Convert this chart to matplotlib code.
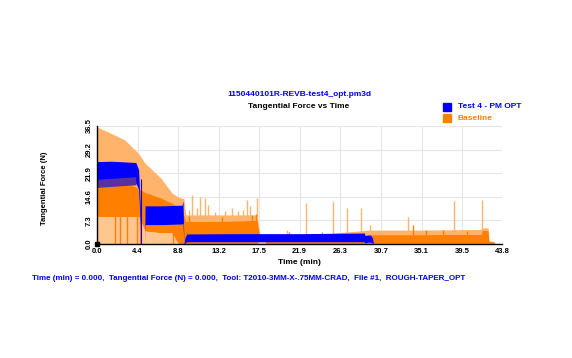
import matplotlib
matplotlib.use("Agg")
import matplotlib.pyplot as plt
from matplotlib.patches import Rectangle

plt.rcParams['font.family'] = ['Liberation Sans', 'DejaVu Sans']
plt.rcParams['font.weight'] = 'bold'

# --- data ---
x_ticks = [0.0, 4.4, 8.8, 13.2, 17.5, 21.9, 26.3, 30.7, 35.1, 39.5, 43.8]
y_ticks = [0.0, 7.3, 14.6, 21.9, 29.2, 36.5]

# baseline envelope (time in min, force in N)
base_time = [0.0, 0.3, 1.4, 3.0, 4.1, 4.5, 5.2, 6.9, 8.1, 8.8, 9.4, 9.6, 12.0,
             17.3, 17.6, 17.9, 18.3, 24.0, 29.4, 29.8, 35.0, 41.5, 41.7, 42.3,
             42.4, 43.0]
base_light_top = [36.3, 35.8, 34.4, 32.2, 29.1, 28.0, 25.0, 20.4, 15.8, 14.5,
                  14.0, 9.0, 9.0, 9.0, 3.0, 3.0, 3.0, 3.0, 4.3, 4.3, 4.3, 4.5,
                  5.0, 5.0, 1.0, 0.8]
base_dark_top = [21.4, 21.5, 20.5, 19.0, 17.8, 17.3, 16.0, 14.3, 12.7, 11.5,
                 9.0, 7.0, 7.0, 7.3, 2.6, 2.2, 2.7, 2.7, 2.8, 2.9, 2.9, 3.0,
                 4.3, 4.3, 0.8, 0.6]
base_dark_bot = [8.5, 8.5, 8.5, 8.5, 8.5, 8.5, 4.0, 3.5, 3.5, 0.0,
                 0.0, 0.0, 0.0, 0.0, 1.2, 2.0, 0.0, 0.0, 0.0, 0.0, 0.0, 0.0,
                 0.0, 0.0, 0.0, 0.0]

# baseline spikes: (time, height)
base_light_spikes = [(10.0, 10.5), (10.3, 15.2), (10.8, 11.0), (11.1, 14.5),
                     (11.7, 14.3), (12.0, 12.1), (12.8, 9.9), (13.8, 10.2),
                     (14.6, 11.1), (15.2, 10.3), (15.8, 10.5), (16.2, 13.6),
                     (16.6, 11.8), (17.3, 14.2), (20.5, 4.3), (22.6, 12.7),
                     (25.5, 13.0), (27.0, 11.1), (28.6, 11.1), (29.5, 5.9),
                     (33.6, 8.5), (38.6, 13.3), (41.6, 13.6)]
base_dark_spikes = [(9.9, 8.8), (13.5, 8.5), (16.8, 9.0), (17.2, 9.2),
                    (20.8, 3.8), (24.3, 3.6), (34.2, 5.9), (35.6, 4.4),
                    (37.4, 4.2), (40.0, 4.0)]
base_dips = [1.9, 2.5, 3.2, 4.3, 4.6, 8.2]

# test 4 envelope
test_time = [0.0, 0.05, 1.5, 3.0, 4.2, 4.5, 4.7, 4.75, 5.15, 5.2, 7.0, 9.2,
             9.3, 9.4, 9.5, 9.7, 15.0, 22.0, 28.9, 29.0, 29.3, 29.6, 29.8,
             29.9]
test_top = [0.0, 25.5, 25.6, 25.4, 25.2, 23.0, 10.0, 0.0, 0.0, 11.8, 11.8,
            12.0, 13.4, 0.0, 1.8, 3.1, 3.2, 3.2, 3.4, 2.6, 2.8, 2.7, 1.8, 0.0]
test_bot = [0.0, 18.0, 18.3, 18.6, 18.8, 17.0, 5.0, 0.0, 0.0, 6.0, 6.0,
            6.2, 6.5, 0.0, 0.3, 0.7, 0.7, 0.7, 0.7, 0.3, 0.6, 0.5, 0.3, 0.0]

blue = '#0000FF'
orange = '#FF8000'
light = '#FFB36B'
pale = '#FFC68F'

fig = plt.figure(figsize=(5.72, 3.58), dpi=100)
ax = fig.add_axes([97 / 572, 1 - 244 / 358, 405 / 572, 118 / 358])

ax.fill_between(base_time, 0, base_dark_bot, color=pale, lw=0, zorder=2)
ax.fill_between(base_time, base_dark_top, base_light_top, color=light, lw=0, zorder=2)
ax.fill_between(base_time, base_dark_bot, base_dark_top, color=orange, lw=0, zorder=3)
ax.vlines([s[0] for s in base_light_spikes], 0, [s[1] for s in base_light_spikes],
          color=light, lw=1.0, zorder=2)
ax.vlines([s[0] for s in base_dark_spikes], 0, [s[1] for s in base_dark_spikes],
          color=orange, lw=1.0, zorder=3)
ax.vlines(base_dips, 0, 10, color=orange, lw=1.0, zorder=3)

ax.fill_between(test_time, test_bot, test_top, color=blue, lw=0, zorder=4)
ax.fill_between(test_time[:5], [b - 0.5 for b in test_bot[:5]],
                [b + 2.0 for b in test_bot[:5]], color='#5a2fa0', lw=0, zorder=5)
ax.vlines([4.8], 0, 20.0, color=blue, lw=0.8, zorder=4)

ax.plot([0], [0], marker='s', color='black', ms=3, zorder=6, clip_on=False)

ax.set_xlim(0, 43.8)
ax.set_ylim(0, 36.5)
ax.set_xticks(x_ticks)
ax.set_xticklabels([f"{v:.1f}" for v in x_ticks], fontsize=5.5, fontweight='bold')
ax.set_yticks(y_ticks)
ax.set_yticklabels([f"{v:.1f}" for v in y_ticks], fontsize=5.5, fontweight='bold',
                   rotation=90, va='center')
ax.tick_params(length=0, pad=3)
ax.grid(True, color='#e6e6e6', lw=0.8, zorder=0)
ax.set_axisbelow(True)
for side in ['top', 'right']:
    ax.spines[side].set_visible(False)
for side in ['left', 'bottom']:
    ax.spines[side].set_color('black')
    ax.spines[side].set_linewidth(1.0)
    ax.spines[side].set_zorder(7)

fig.text(299 / 572, 1 - 94 / 358, "1150440101R-REVB-test4_opt.pm3d", color=blue,
         fontsize=6, fontweight='bold', ha='center', va='center')
fig.text(299 / 572, 1 - 107 / 358, "Tangential Force vs Time", color='black',
         fontsize=6, fontweight='bold', ha='center', va='center')
fig.text(44 / 572, 1 - 188 / 358, "Tangential Force (N)", color='black',
         fontsize=5.5, fontweight='bold', ha='center', va='center', rotation=90)
fig.text(299 / 572, 1 - 262 / 358, "Time (min)", color='black',
         fontsize=6, fontweight='bold', ha='center', va='center')
fig.text(32 / 572, 1 - 279 / 358,
         "Time (min) = 0.000,  Tangential Force (N) = 0.000,  Tool: T2010-3MM-X-.75MM-CRAD,  File #1,  ROUGH-TAPER_OPT",
         color=blue, fontsize=5.8, fontweight='bold', ha='left', va='center')

# legend
for (label, col, py) in [("Test 4 - PM OPT", blue, 107), ("Baseline", orange, 118)]:
    fig.patches.append(Rectangle((443 / 572, 1 - (py + 4) / 358), 8 / 572, 8 / 358,
                                 transform=fig.transFigure, color=col))
    fig.text(458 / 572, 1 - py / 358, label, color=col, fontsize=6,
             fontweight='bold', ha='left', va='center')

fig.savefig("out.png", dpi=100)
